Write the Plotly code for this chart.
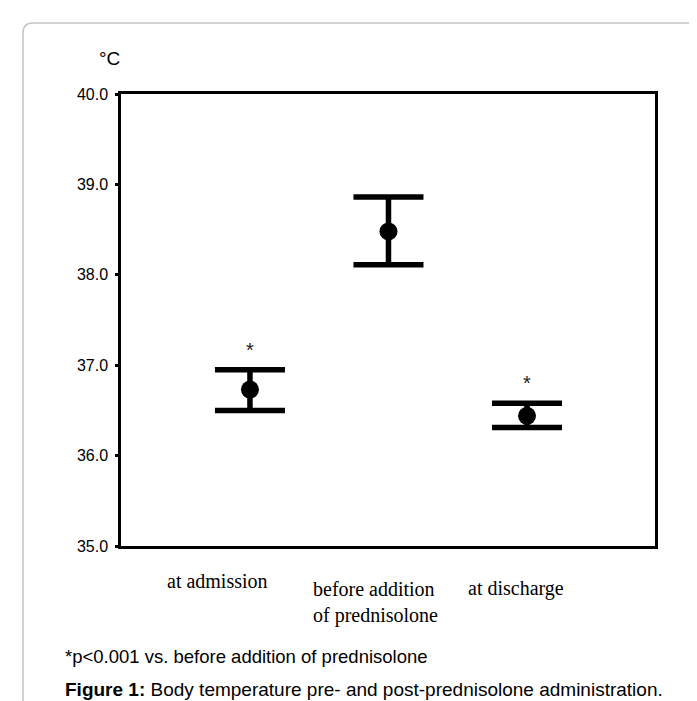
import plotly.graph_objects as go

# ---- data ----
categories = ["at admission", "before addition of prednisolone", "at discharge"]
cat_labels = ["at admission", "before addition<br>of prednisolone", "at discharge"]
mean_temp = [36.73, 38.48, 36.44]
upper_temp = [36.95, 38.86, 36.58]
lower_temp = [36.50, 38.11, 36.31]
significance = ["*", "", "*"]
y_ticks = [35.0, 36.0, 37.0, 38.0, 39.0, 40.0]

W, H = 697, 701
L, R, T, B = 113, 50, 86, 163
pw, ph = W - L - R, H - T - B


def px_to_paper(x, y):
    return (x - L) / pw, (H - B - y) / ph


fig = go.Figure()
fig.add_trace(go.Scatter(
    x=categories, y=mean_temp, mode="markers",
    marker=dict(color="black", size=18),
    error_y=dict(type="data", symmetric=False,
                 array=[u - m for u, m in zip(upper_temp, mean_temp)],
                 arrayminus=[m - l for m, l in zip(mean_temp, lower_temp)],
                 color="black", thickness=5.5, width=35),
    showlegend=False, hoverinfo="skip",
))

SANS = "Arial, Liberation Sans, sans-serif"
SERIF = "Times New Roman, Liberation Serif, serif"

annotations = []
# significance asterisks
for c, u, s in zip(categories, upper_temp, significance):
    if s:
        annotations.append(dict(x=c, y=u, xref="x", yref="y", text=s, showarrow=False,
                                yanchor="middle", yshift=20,
                                font=dict(family=SANS, size=20, color="#222222")))
# category labels (placed like the original)
label_shift = [-32, -13, -11]
label_y = [573, 594, 580]
for c, t, sh, ly in zip(categories, cat_labels, label_shift, label_y):
    annotations.append(dict(x=c, y=px_to_paper(0, ly)[1], xref="x", yref="paper",
                            text=t, showarrow=False, xanchor="center", yanchor="middle",
                            xshift=sh, align="left",
                            font=dict(family=SERIF, size=20, color="black")))
# unit label
ux, uy = px_to_paper(101, 50)
annotations.append(dict(x=ux, y=uy, xref="paper", yref="paper", text="°C", showarrow=False,
                        xanchor="center", yanchor="middle",
                        font=dict(family=SANS, size=19, color="black")))
# footnote and caption
fx, fy = px_to_paper(55, 648)
annotations.append(dict(x=fx, y=fy, xref="paper", yref="paper",
                        text="*p<0.001 vs. before addition of prednisolone", showarrow=False,
                        xanchor="left", yanchor="middle",
                        font=dict(family=SANS, size=18.5, color="black")))
cx, cy = px_to_paper(55, 681)
annotations.append(dict(x=cx, y=cy, xref="paper", yref="paper",
                        text="<b>Figure 1:</b> Body temperature pre- and post-prednisolone administration.",
                        showarrow=False, xanchor="left", yanchor="middle",
                        font=dict(family=SANS, size=19, color="black")))

# outer rounded border
x0, y0 = 15, 15
x1, y1 = 690, 710
r = 10


def P(x, y):
    a, b = px_to_paper(x, y)
    return f"{a:.5f},{b:.5f}"


path = (f"M {P(x0, y1)} L {P(x0, y0 + r)} Q {P(x0, y0)} {P(x0 + r, y0)} "
        f"L {P(x1 - r, y0)} Q {P(x1, y0)} {P(x1, y0 + r)} L {P(x1, y1)}")
shapes = [dict(type="path", path=path, xref="paper", yref="paper",
               line=dict(color="#c4c4c4", width=1.5))]

fig.update_layout(
    width=W, height=H,
    margin=dict(l=L, r=R, t=T, b=B, autoexpand=False),
    paper_bgcolor="white", plot_bgcolor="white",
    annotations=annotations, shapes=shapes,
    xaxis=dict(type="category", range=[-0.931, 2.924], showticklabels=False,
               ticks="", showgrid=False, zeroline=False,
               showline=True, linecolor="black", linewidth=2.5, mirror=True),
    yaxis=dict(range=[35, 40], tickvals=y_ticks, tickformat=".1f",
               ticks="outside", ticklen=3, tickwidth=3, tickcolor="black",
               ticklabelstandoff=4,
               tickfont=dict(family=SANS, size=16, color="black"),
               showgrid=False, zeroline=False,
               showline=True, linecolor="black", linewidth=2.5, mirror=True),
)

fig.write_html("out.html")
